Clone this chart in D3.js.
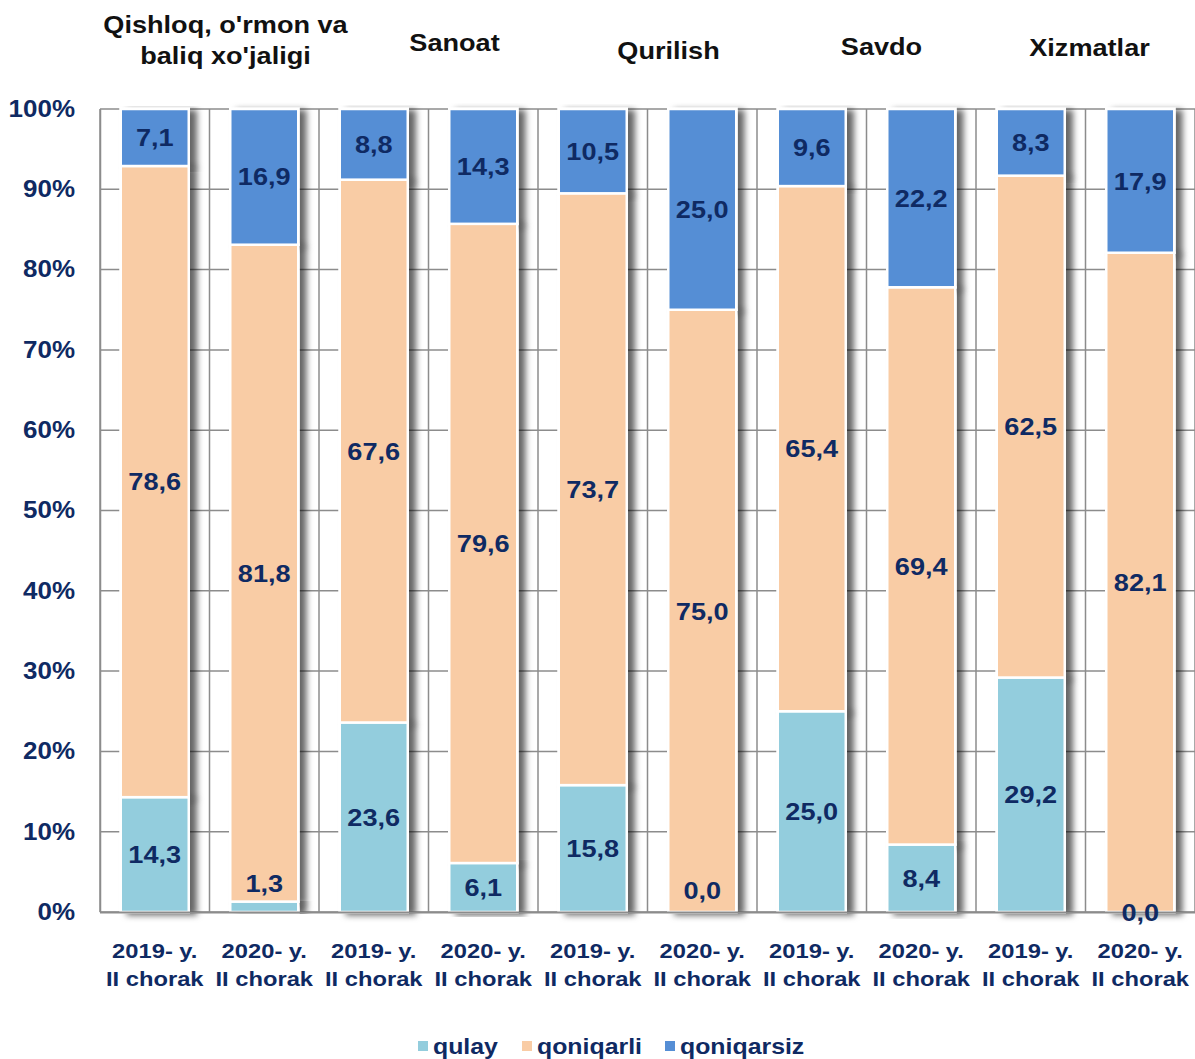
<!DOCTYPE html>
<html><head><meta charset="utf-8">
<script src="https://cdn.jsdelivr.net/npm/d3@7"></script>
<style>body{margin:0;background:#fff;} text{font-family:"Liberation Sans",Arial,sans-serif;font-weight:bold;}</style>
</head><body>
<svg id="chart" width="1195" height="1059"></svg>
<script>
const groups = ["Qishloq, o'rmon va|baliq xo'jaligi","Sanoat","Qurilish","Savdo","Xizmatlar"];
const periods = ["2019- y.|II chorak","2020- y.|II chorak"];
const seriesNames = ["qulay","qoniqarli","qoniqarsiz"];
const qulay      = [14.3, 1.3, 23.6, 6.1, 15.8, 0.0, 25.0, 8.4, 29.2, 0.0];
const qoniqarli  = [78.6, 81.8, 67.6, 79.6, 73.7, 75.0, 65.4, 69.4, 62.5, 82.1];
const qoniqarsiz = [7.1, 16.9, 8.8, 14.3, 10.5, 25.0, 9.6, 22.2, 8.3, 17.9];
const yTicks = [0,10,20,30,40,50,60,70,80,90,100];

// styling
const colors = ["#93CDDD","#F9CCA5","#558ED5"];
const navy = "#0F2A63";
const SX = 1.13; // horizontal text stretch
const qulayLabelNudge = [0,-23,0,0,0,-22,0,0,0,0];
const titleLayout = [{dx:16,y:[24,55]},{dx:26,y:[42]},{dx:21,y:[50]},{dx:15,y:[46]},{dx:4,y:[47]}];

const svg = d3.select("#chart");
const defs = svg.append("defs");
const f = defs.append("filter").attr("id","sh").attr("x","-20%").attr("y","-5%").attr("width","160%").attr("height","115%");
f.append("feDropShadow").attr("dx",7).attr("dy",2).attr("stdDeviation",3.2).attr("flood-color","#000").attr("flood-opacity",0.6);

const pL=100, pR=1195, pT=109, pB=912;
const cats = d3.range(10);
const x = d3.scaleBand().domain(cats).range([pL,pR]).paddingInner(0).paddingOuter(0);
const y = d3.scaleLinear().domain([0,100]).range([pB,pT]);

const rows = cats.map(i=>({i, qulay:qulay[i], qoniqarli:qoniqarli[i], qoniqarsiz:qoniqarsiz[i]}));
const stack = d3.stack().keys(seriesNames)(rows);

function stext(parent, tx, ty, str, size, fill, anchor){
  return parent.append("text").attr("transform",`translate(${tx},${ty}) scale(${SX},1)`)
    .attr("text-anchor",anchor||"middle").attr("font-size",size).attr("fill",fill).attr("dy","0.36em").text(str);
}

// gridlines
svg.append("g").selectAll("line").data(yTicks).join("line")
  .attr("x1",pL).attr("x2",pR).attr("y1",d=>y(d)).attr("y2",d=>y(d))
  .attr("stroke","#8c8c8c").attr("stroke-width",1.5);
// vertical category separators
svg.append("g").selectAll("line").data(d3.range(11)).join("line")
  .attr("x1",d=>pL+d*x.bandwidth()).attr("x2",d=>pL+d*x.bandwidth())
  .attr("y1",pT).attr("y2",pB)
  .attr("stroke","#8c8c8c").attr("stroke-width",1.5);

// y axis
const yAxis = d3.axisLeft(y).tickValues(yTicks).tickFormat(d=>d+"%").tickSize(0).tickPadding(24);
const ga = svg.append("g").attr("transform",`translate(${pL},0)`).call(yAxis);
ga.select(".domain").attr("stroke","#8c8c8c").attr("stroke-width",1.5);
ga.selectAll("text").attr("font-size",23).attr("fill",navy).attr("font-family","Liberation Sans,Arial").attr("font-weight","bold")
  .attr("x",-25/SX).attr("transform",`scale(${SX},1)`);

// bars
const bw = 68;
const barX = i => x(i)+x.bandwidth()/2-bw/2;
const layers = svg.append("g").selectAll("g").data(stack).join("g").attr("fill",(d,k)=>colors[k]);
layers.selectAll("rect").data(d=>d).join("rect")
  .attr("x",d=>barX(d.data.i)).attr("width",bw)
  .attr("y",d=>y(d[1])).attr("height",d=>Math.max(0,y(d[0])-y(d[1])))
  .attr("stroke","#fff").attr("stroke-width",2.5)
  .attr("filter","url(#sh)");
const layers2 = svg.append("g").selectAll("g").data(stack).join("g").attr("fill",(d,k)=>colors[k]);
layers2.selectAll("rect").data(d=>d).join("rect")
  .attr("x",d=>barX(d.data.i)).attr("width",bw)
  .attr("y",d=>y(d[1])).attr("height",d=>Math.max(0,y(d[0])-y(d[1])))
  .attr("stroke","#fff").attr("stroke-width",2.5);

// bottom axis line
svg.append("line").attr("x1",pL).attr("x2",pR).attr("y1",pB+0.5).attr("y2",pB+0.5)
  .attr("stroke","#8c8c8c").attr("stroke-width",2);

// data labels
const fmt = v => d3.format(".1f")(v).replace(".",",");
const gl = svg.append("g");
stack.forEach((layer,k)=>{
  layer.forEach(d=>{
    stext(gl, x(d.data.i)+x.bandwidth()/2,
      (y(d[0])+y(d[1]))/2 + (k===0?qulayLabelNudge[d.data.i]:0),
      fmt(d.data[seriesNames[k]]), 24, navy);
  });
});

// x labels
const gx = svg.append("g");
cats.forEach(i=>{
  periods[i%2].split("|").forEach((l,j)=>stext(gx, x(i)+x.bandwidth()/2, 950+j*28, l, 21, navy));
});

// group titles
const gt = svg.append("g");
groups.forEach((g,gi)=>{
  const cx = pL + (gi*2+1)*x.bandwidth() + titleLayout[gi].dx;
  g.split("|").forEach((l,j)=>stext(gt, cx, titleLayout[gi].y[j], l, 24, "#111"));
});

// legend
const legX = [418,522,665];
seriesNames.forEach((s,k)=>{
  svg.append("rect").attr("x",legX[k]).attr("y",1041).attr("width",10).attr("height",10).attr("fill",colors[k]);
  stext(svg, legX[k]+15, 1046, s, 22, navy, "start");
});
</script>
</body></html>
